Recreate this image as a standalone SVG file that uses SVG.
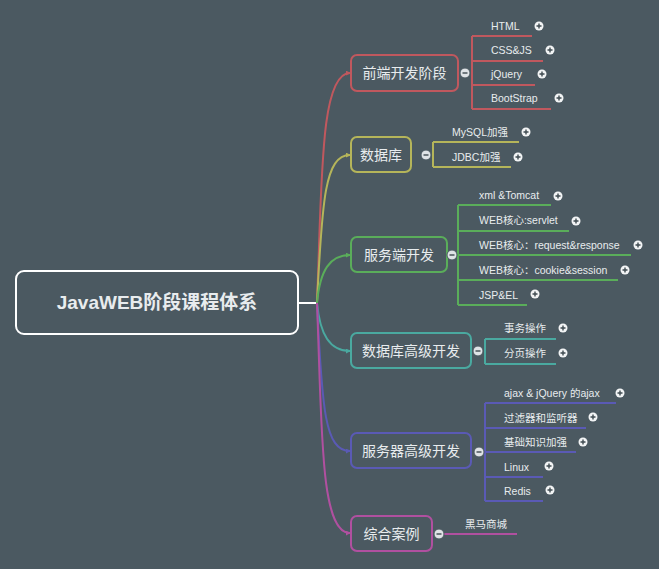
<svg xmlns="http://www.w3.org/2000/svg" width="659" height="569" viewBox="0 0 659 569">
<defs>
<style>
.t{font-family:"Liberation Sans","Noto Sans CJK SC",sans-serif;fill:#e8ecee}
.n{font-size:14px}
.s{font-size:10.5px}
.nb{fill:#4b5961;stroke-width:2}
.l{fill:none;stroke-width:2}
.pc{fill:#f2f4f5}
.pm{stroke:#3f4a50;stroke-width:1.4}
</style>
<g id="plus"><circle r="4.5" class="pc"/><path d="M-2.5 0H2.5M0 -2.5V2.5" class="pm"/></g>
<g id="minus"><circle r="5" fill="#dfe3e6" stroke="#4b5961" stroke-width="1"/><path d="M-2.5 0H2.5" class="pm"/></g>
<marker id="ar" viewBox="0 0 6 6" refX="5" refY="3" markerWidth="5" markerHeight="5" orient="auto" markerUnits="userSpaceOnUse"><path d="M0 0L6 3L0 6z" fill="context-stroke"/></marker>
</defs>
<rect width="659" height="569" fill="#4b5961"/>
<g id="connectors">
<path d="M298 303H317" stroke="#fff" stroke-width="2"/>
<path class="l" stroke="#c0585e" d="M317 303C322 180 320 73 350 73" marker-end="url(#ar)"/>
<path class="l" stroke="#b5b55a" d="M317 303C322 200 325 155 350 155" marker-end="url(#ar)"/>
<path class="l" stroke="#5aad5a" d="M317 303C320 270 330 255 350 255" marker-end="url(#ar)"/>
<path class="l" stroke="#4aa9a0" d="M317 303C320 335 330 351 350 351" marker-end="url(#ar)"/>
<path class="l" stroke="#5a5ab5" d="M317 303C322 410 325 451 350 451" marker-end="url(#ar)"/>
<path class="l" stroke="#b050a0" d="M317 303C322 430 320 533 350 533" marker-end="url(#ar)"/>
<path class="l" stroke="#c0585e" d="M472 36V109M472 36H532M472 61H543M472 85H535M472 109H551"/>
<path class="l" stroke="#b5b55a" d="M433 142V167M433 142H519M433 167H511"/>
<path class="l" stroke="#5aad5a" d="M458 205V305M458 205H551M458 231H569M458 255H631M458 280H618M458 305H527"/>
<path class="l" stroke="#4aa9a0" d="M485 339V364M485 339H556M485 364H556"/>
<path class="l" stroke="#5a5ab5" d="M485 403V501M485 403H616M485 428H586M485 452H576M485 477H543M485 501H543"/>
<path class="l" stroke="#b050a0" d="M444 534H517"/>
</g>
<g id="root"><rect x="16" y="271" width="282" height="63" rx="8" fill="#4b5961" stroke="#fff" stroke-width="2"/><text class="t" x="157" y="309" font-size="19" font-weight="bold" text-anchor="middle">JavaWEB阶段课程体系</text></g>
<g id="n1"><rect class="nb" x="351" y="55" width="107" height="36" rx="6" stroke="#c0585e"/><text class="t n" x="404.5" y="78" text-anchor="middle">前端开发阶段</text><use href="#minus" x="465" y="73"/></g>
<g id="n2"><rect class="nb" x="351" y="137" width="60" height="35" rx="6" stroke="#b5b55a"/><text class="t n" x="381" y="160" text-anchor="middle">数据库</text><use href="#minus" x="426" y="155"/></g>
<g id="n3"><rect class="nb" x="351" y="237" width="96" height="35" rx="6" stroke="#5aad5a"/><text class="t n" x="399" y="260" text-anchor="middle">服务端开发</text><use href="#minus" x="452" y="255"/></g>
<g id="n4"><rect class="nb" x="351" y="333" width="120" height="35" rx="6" stroke="#4aa9a0"/><text class="t n" x="411" y="356" text-anchor="middle">数据库高级开发</text><use href="#minus" x="478" y="351"/></g>
<g id="n5"><rect class="nb" x="351" y="433" width="120" height="35" rx="6" stroke="#5a5ab5"/><text class="t n" x="411" y="456" text-anchor="middle">服务器高级开发</text><use href="#minus" x="479" y="452"/></g>
<g id="n6"><rect class="nb" x="351" y="516" width="81" height="35" rx="6" stroke="#b050a0"/><text class="t n" x="391.5" y="539" text-anchor="middle">综合案例</text><use href="#minus" x="439" y="534"/></g>
<g id="leaves">
<text class="t s" x="491" y="30">HTML</text><use href="#plus" x="539" y="26"/>
<text class="t s" x="491" y="54">CSS&amp;JS</text><use href="#plus" x="550" y="50"/>
<text class="t s" x="491" y="78">jQuery</text><use href="#plus" x="542" y="74"/>
<text class="t s" x="491" y="102">BootStrap</text><use href="#plus" x="559" y="98"/>
<text class="t s" x="452" y="136">MySQL加强</text><use href="#plus" x="526" y="132"/>
<text class="t s" x="452" y="161">JDBC加强</text><use href="#plus" x="518" y="157"/>
<text class="t s" x="479" y="199">xml &amp;Tomcat</text><use href="#plus" x="558" y="196"/>
<text class="t s" x="479" y="224">WEB核心:servlet</text><use href="#plus" x="576" y="221"/>
<text class="t s" x="479" y="249">WEB核心：request&amp;response</text><use href="#plus" x="638" y="245"/>
<text class="t s" x="479" y="274">WEB核心：cookie&amp;session</text><use href="#plus" x="625" y="270"/>
<text class="t s" x="479" y="299">JSP&amp;EL</text><use href="#plus" x="535" y="294"/>
<text class="t s" x="504" y="332">事务操作</text><use href="#plus" x="563" y="328"/>
<text class="t s" x="504" y="357">分页操作</text><use href="#plus" x="563" y="353"/>
<text class="t s" x="504" y="397">ajax &amp; jQuery 的ajax</text><use href="#plus" x="620" y="393"/>
<text class="t s" x="504" y="422">过滤器和监听器</text><use href="#plus" x="593" y="417"/>
<text class="t s" x="504" y="446">基础知识加强</text><use href="#plus" x="583" y="442"/>
<text class="t s" x="504" y="471">Linux</text><use href="#plus" x="549" y="466"/>
<text class="t s" x="504" y="495">Redis</text><use href="#plus" x="550" y="490"/>
<text class="t s" x="465" y="528">黑马商城</text>
</g>
</svg>
